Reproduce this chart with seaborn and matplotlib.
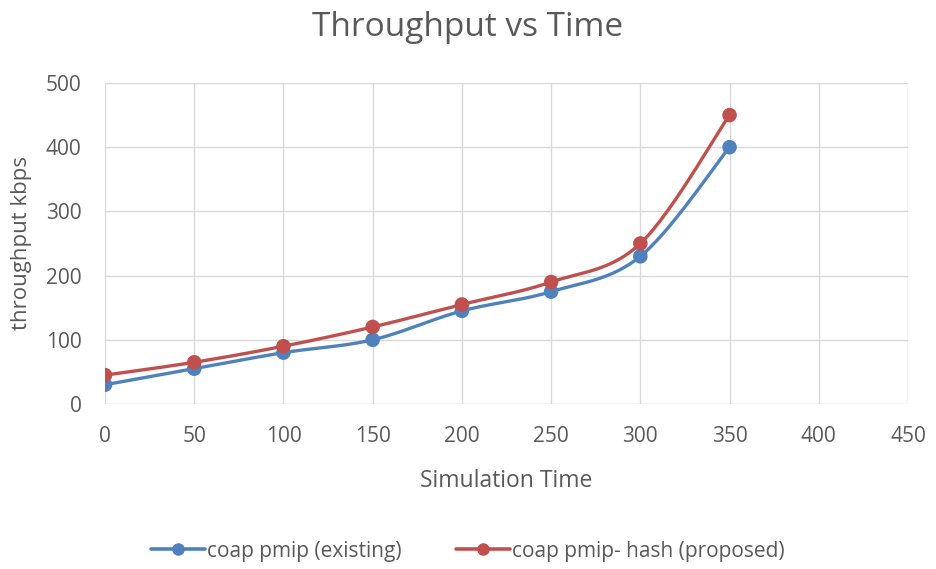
import numpy as np
import pandas as pd
import matplotlib
matplotlib.use("Agg")
import matplotlib.pyplot as plt
import seaborn as sns
from matplotlib.lines import Line2D

# Simulation times and throughput values (kbps)
sim_time = [0, 50, 100, 150, 200, 250, 300, 350]
existing = [30, 55, 80, 100, 145, 175, 230, 400]
proposed = [45, 65, 90, 120, 155, 190, 250, 450]
series_names = ["coap pmip (existing)", "coap pmip- hash (proposed)"]
x_ticks = [0, 50, 100, 150, 200, 250, 300, 350, 400, 450]
y_ticks = [0, 100, 200, 300, 400, 500]

BLUE = "#4F81BD"
RED = "#C0504D"
TEXT = "#595959"
GRID = "#D9D9D9"


def smooth_curve(x, y, n=30):
    """Catmull-Rom style smoothing, similar to spreadsheet smoothed lines."""
    x = np.asarray(x, float)
    y = np.asarray(y, float)
    pts = np.column_stack([x, y])
    ext = np.vstack([pts[0], pts, pts[-1]])
    out = []
    t = np.linspace(0, 1, n)
    for i in range(1, len(ext) - 2):
        p0, p1, p2, p3 = ext[i - 1], ext[i], ext[i + 1], ext[i + 2]
        c1 = p1 + (p2 - p0) / 6.0
        c2 = p2 - (p3 - p1) / 6.0
        seg = ((1 - t) ** 3)[:, None] * p1 + (3 * (1 - t) ** 2 * t)[:, None] * c1 \
            + (3 * (1 - t) * t ** 2)[:, None] * c2 + (t ** 3)[:, None] * p2
        out.append(seg if i == 1 else seg[1:])
    seg = np.vstack(out)
    return seg[:, 0], seg[:, 1]


sns.set_theme(style="white")
plt.rcParams["font.family"] = ["Open Sans", "DejaVu Sans"]

fig = plt.figure(figsize=(9.36, 5.69), dpi=100)
ax = fig.add_axes([105 / 936, 1 - 404 / 569, (908 - 105) / 936, (404 - 83) / 569])

points = pd.DataFrame({
    "time": sim_time * 2,
    "throughput": existing + proposed,
    "series": [series_names[0]] * len(sim_time) + [series_names[1]] * len(sim_time),
})

curves = []
for name, vals in zip(series_names, [existing, proposed]):
    cx, cy = smooth_curve(sim_time, vals)
    curves.append(pd.DataFrame({"time": cx, "throughput": cy, "series": name}))
curves = pd.concat(curves, ignore_index=True)

palette = {series_names[0]: BLUE, series_names[1]: RED}
sns.lineplot(data=curves, x="time", y="throughput", hue="series", palette=palette,
             linewidth=2.4, sort=False, estimator=None, legend=False, ax=ax, zorder=3)
sns.scatterplot(data=points, x="time", y="throughput", hue="series", palette=palette,
                s=110, edgecolor="none", legend=False, ax=ax, zorder=4)

ax.set_xlim(0, 450)
ax.set_ylim(0, 500)
ax.set_xticks(x_ticks)
ax.set_yticks(y_ticks)
ax.grid(True, color=GRID, linewidth=1)
for s in ax.spines.values():
    s.set_visible(False)
ax.tick_params(axis="x", length=0, labelsize=15, colors=TEXT, pad=16)
ax.tick_params(axis="y", length=0, labelsize=15, colors=TEXT, pad=17)

ax.set_xlabel("Simulation Time", fontsize=16.5, color=TEXT)
ax.set_ylabel("throughput kbps", fontsize=16, color=TEXT)
ax.xaxis.set_label_coords(0.5, (404 - 481) / 321)
ax.yaxis.set_label_coords((22 - 105) / 803, 0.5)
ax.xaxis.label.set_va("center")
ax.yaxis.label.set_va("center")

fig.text(0.5, 1 - 28 / 569, "Throughput vs Time", ha="center", va="center",
         fontsize=24, color=TEXT)

handles = [Line2D([], [], color=c, marker="o", markersize=8, linewidth=2.6)
           for c in (BLUE, RED)]
fig.legend(handles, series_names, loc="center", bbox_to_anchor=(0.5, 1 - 551 / 569),
           ncol=2, frameon=False, fontsize=15, labelcolor=TEXT,
           handlelength=2.6, handletextpad=0.1, columnspacing=2.6)

fig.savefig("out.png", dpi=100)
